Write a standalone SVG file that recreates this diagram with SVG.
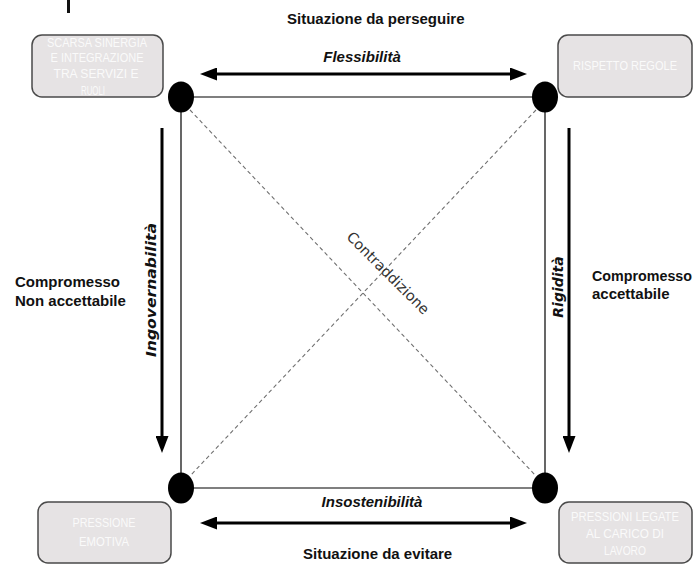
<svg xmlns="http://www.w3.org/2000/svg" width="697" height="568" viewBox="0 0 697 568">
  <style>
    .box { fill: #e6e3e4; stroke: #4a4a4a; stroke-width: 1.5; }
    .boxtxt { font-family: "Liberation Sans", Arial, sans-serif; font-size: 13px; fill: #fafafa; text-anchor: middle; }
    .side { stroke: #000; stroke-width: 1.2; fill: none; }
    .diag { stroke: #707070; stroke-width: 1.1; stroke-dasharray: 4 3; fill: none; }
    .arrow { stroke: #000; stroke-width: 3; fill: none; }
    .dot { fill: #000; }
    .head { font-family: "Liberation Sans", Arial, sans-serif; font-size: 15px; font-weight: bold; fill: #111; }
    .axis { font-family: "Liberation Sans", Arial, sans-serif; font-size: 15px; font-weight: bold; font-style: italic; fill: #111; text-anchor: middle; }
    .vaxis { font-family: "DejaVu Sans", Verdana, sans-serif; font-size: 14px; font-weight: bold; font-style: italic; fill: #111; text-anchor: middle; }
    .note { font-family: "DejaVu Sans", Verdana, sans-serif; font-size: 14.5px; fill: #333; text-anchor: middle; }
  </style>
  <defs>
    <marker id="tip" markerUnits="userSpaceOnUse" markerWidth="17" markerHeight="13" refX="2" refY="6.5" orient="auto-start-reverse" viewBox="0 0 17 13">
      <path d="M0,0 L17,6.5 L0,13 z" fill="#000"/>
    </marker>
  </defs>

  <rect width="697" height="568" fill="#fff"/>

  <!-- clipped title stroke at the top edge -->
  <rect x="67" y="0" width="3" height="13" fill="#111"/>

  <!-- square sides, diagonals and direction arrows -->
  <g id="connectors">
    <line class="side" x1="181" y1="97" x2="545" y2="97"/>
    <line class="side" x1="181" y1="488" x2="545" y2="488"/>
    <line class="side" x1="181" y1="97" x2="181" y2="488"/>
    <line class="side" x1="545" y1="97" x2="545" y2="488"/>
    <line class="diag" x1="190" y1="110" x2="536" y2="476"/>
    <line class="diag" x1="536" y1="110" x2="190" y2="476"/>
    <line class="arrow" x1="215" y1="74" x2="512" y2="74" marker-start="url(#tip)" marker-end="url(#tip)"/>
    <line class="arrow" x1="215" y1="523" x2="512" y2="523" marker-start="url(#tip)" marker-end="url(#tip)"/>
    <line class="arrow" x1="162" y1="128" x2="162" y2="438" marker-end="url(#tip)"/>
    <line class="arrow" x1="569" y1="128" x2="569" y2="438" marker-end="url(#tip)"/>
  </g>

  <!-- corner points -->
  <g id="corner-tl"><ellipse class="dot" cx="181" cy="97" rx="13" ry="15.5"/></g>
  <g id="corner-tr"><ellipse class="dot" cx="545" cy="97" rx="13" ry="15.5"/></g>
  <g id="corner-bl"><ellipse class="dot" cx="181" cy="488" rx="13" ry="15.5"/></g>
  <g id="corner-br"><ellipse class="dot" cx="545" cy="488" rx="13" ry="15.5"/></g>

  <!-- corner boxes -->
  <g id="box-sinergia">
    <rect class="box" x="32" y="35" width="131" height="62" rx="10"/>
    <text class="boxtxt" x="97" y="47" textLength="100" lengthAdjust="spacingAndGlyphs">SCARSA SINERGIA</text>
    <text class="boxtxt" x="97" y="62" textLength="93" lengthAdjust="spacingAndGlyphs">E INTEGRAZIONE</text>
    <text class="boxtxt" x="96" y="78" textLength="85" lengthAdjust="spacingAndGlyphs">TRA SERVIZI  E</text>
    <text class="boxtxt" x="93" y="95" textLength="24" lengthAdjust="spacingAndGlyphs">RUOLI</text>
  </g>
  <g id="box-regole">
    <rect class="box" x="558" y="35" width="134" height="62" rx="10"/>
    <text class="boxtxt" x="625" y="70" textLength="104" lengthAdjust="spacingAndGlyphs">RISPETTO REGOLE</text>
  </g>
  <g id="box-emotiva">
    <rect class="box" x="38" y="502" width="133" height="61" rx="10"/>
    <text class="boxtxt" x="104" y="527" textLength="63" lengthAdjust="spacingAndGlyphs">PRESSIONE</text>
    <text class="boxtxt" x="104" y="546" textLength="50" lengthAdjust="spacingAndGlyphs">EMOTIVA</text>
  </g>
  <g id="box-lavoro">
    <rect class="box" x="559" y="502" width="133" height="61" rx="10"/>
    <text class="boxtxt" x="625" y="521" textLength="108" lengthAdjust="spacingAndGlyphs">PRESSIONI  LEGATE</text>
    <text class="boxtxt" x="625" y="538" textLength="78" lengthAdjust="spacingAndGlyphs">AL CARICO  DI</text>
    <text class="boxtxt" x="625" y="555" textLength="42" lengthAdjust="spacingAndGlyphs">LAVORO</text>
  </g>

  <!-- labels -->
  <g id="labels">
    <text class="head" x="287" y="24">Situazione  da perseguire</text>
    <text class="head" x="303" y="559">Situazione  da  evitare</text>
    <text class="axis" x="362" y="62">Flessibilità</text>
    <text class="axis" x="372" y="507">Insostenibilità</text>
    <text class="vaxis" transform="translate(156,290) rotate(-90)" textLength="134" lengthAdjust="spacingAndGlyphs">Ingovernabilità</text>
    <text class="vaxis" transform="translate(563,287) rotate(-90)">Rigidità</text>
    <text class="note" transform="translate(388,273) rotate(45)" y="5">Contraddizione</text>
    <text class="head" x="15" y="287">Compromesso</text>
    <text class="head" x="15" y="306">Non accettabile</text>
    <text class="head" x="592" y="281" textLength="100" lengthAdjust="spacingAndGlyphs">Compromesso</text>
    <text class="head" x="592" y="299">accettabile</text>
  </g>
</svg>
